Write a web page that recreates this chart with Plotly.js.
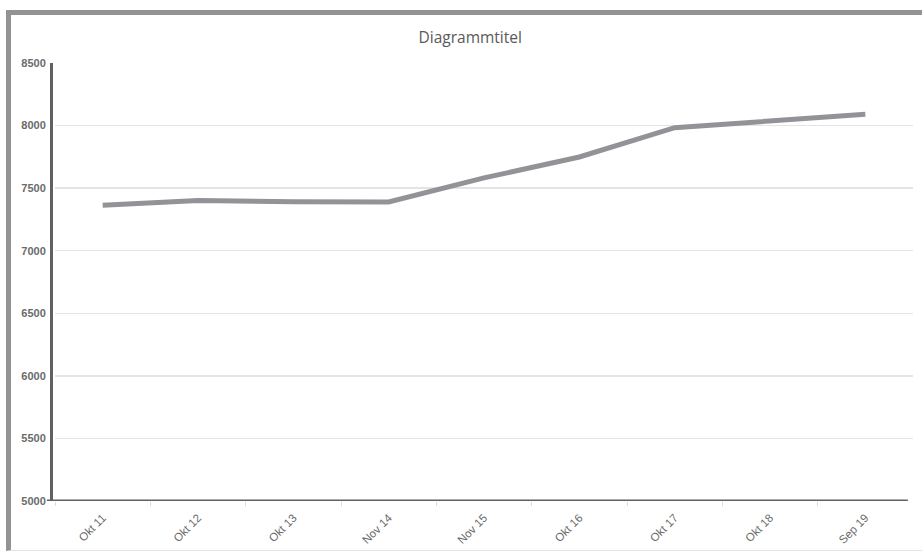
<!DOCTYPE html>
<html>
<head>
<meta charset="utf-8">
<script src="https://cdn.plot.ly/plotly-3.0.1.min.js"></script>
<style>
  html, body { margin: 0; padding: 0; background: #ffffff; }
  #frame { position: absolute; left: 6px; top: 10px; width: 940px; height: 541px;
           border-left: 5px solid #939393; border-top: 5px solid #939393;
           border-bottom: 1px solid #e4e4e4; box-sizing: border-box; background: #ffffff; }
  #chart { position: absolute; left: 0; top: 0; width: 922px; height: 552px; }
</style>
</head>
<body>
<div id="frame"></div>
<div id="chart"></div>
<script>
const categories = ["Okt 11", "Okt 12", "Okt 13", "Nov 14", "Nov 15", "Okt 16", "Okt 17", "Okt 18", "Sep 19"];
const values = [7364, 7402, 7392, 7390, 7582, 7749, 7983, 8032, 8090];
const yTicks = [5000, 5500, 6000, 6500, 7000, 7500, 8000, 8500];
const titleText = "Diagrammtitel";

const trace = {
  type: "scatter",
  mode: "lines",
  x: categories,
  y: values,
  line: { color: "#939397", width: 5 },
  hoverinfo: "skip"
};

const layout = {
  width: 922,
  height: 552,
  paper_bgcolor: "rgba(0,0,0,0)",
  plot_bgcolor: "rgba(0,0,0,0)",
  showlegend: false,
  margin: { l: 51, r: 9, t: 63, b: 51 },
  title: {
    text: titleText,
    x: 0.51, xanchor: "center",
    y: 0.932, yanchor: "middle",
    font: { family: "Open Sans, Noto Sans, sans-serif", size: 15.5, color: "#595959" }
  },
  xaxis: {
    type: "category",
    domain: [0.0047, 1],
    range: [-0.5, categories.length - 0.5],
    tickmode: "array",
    tickvals: categories,
    ticktext: categories,
    tickson: "boundaries",
    ticks: "outside",
    ticklen: 4,
    tickcolor: "#dcdcdc",
    tickwidth: 1,
    tickangle: -45,
    ticklabelstandoff: 7,
    tickfont: { family: "Liberation Sans, Arial, sans-serif", size: 11.5, color: "#6a6a6a" },
    showgrid: false,
    zeroline: false,
    showline: false,
    fixedrange: true
  },
  yaxis: {
    anchor: "free",
    position: 0,
    range: [5000, 8500],
    tickmode: "array",
    tickvals: yTicks,
    ticktext: yTicks.map(String),
    ticks: "",
    ticklabelstandoff: 2,
    tickfont: { family: "Liberation Sans, Arial, sans-serif", size: 11, color: "#6b6b6b", weight: "bold" },
    showgrid: true,
    gridcolor: "#e4e4e4",
    gridwidth: 1.5,
    zeroline: false,
    showline: true,
    linecolor: "#605f64",
    linewidth: 3,
    fixedrange: true
  },
  shapes: [
    { type: "line", xref: "paper", yref: "y", x0: -0.0047, x1: 0.994, y0: 5000, y1: 5000,
      line: { color: "#605f64", width: 3 }, layer: "above" }
  ]
};

Plotly.newPlot("chart", [trace], layout, { displayModeBar: false, staticPlot: true });
</script>
</body>
</html>
